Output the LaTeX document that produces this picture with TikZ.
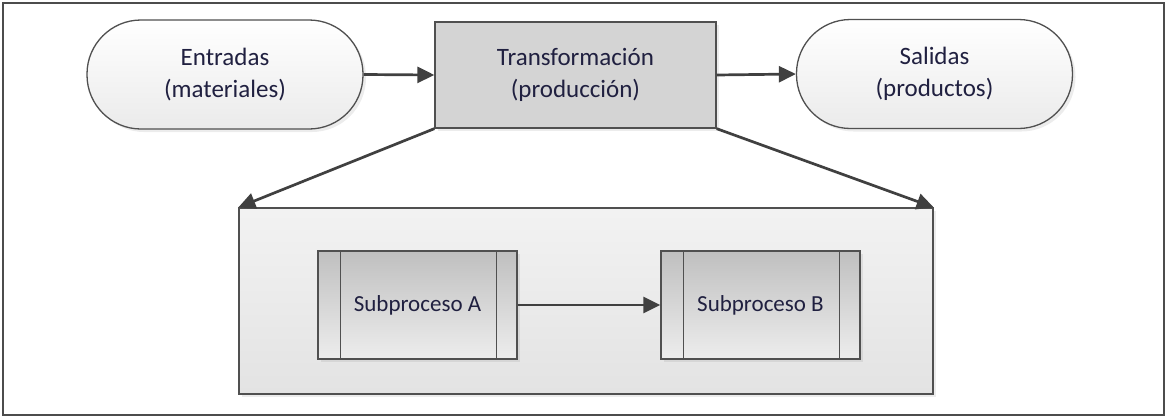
\documentclass[tikz,border=0pt]{standalone}
\usepackage{fontspec}
\setmainfont{Carlito}
\usetikzlibrary{arrows.meta,shadows}
\definecolor{txt}{RGB}{32,32,64}
\definecolor{edge}{RGB}{80,80,80}
\definecolor{arr}{RGB}{64,64,64}
\tikzset{
  base/.style={draw=edge, line width=1.3pt, text=txt, align=center, inner sep=0pt,
    drop shadow={opacity=0.15, shadow xshift=3pt, shadow yshift=-3pt}},
  terminal/.style={base, minimum width=276pt, minimum height=109pt, rounded corners=54pt,
    top color=white, bottom color=black!8, font=\fontsize{25}{32}\selectfont},
  trans/.style={base, minimum width=281pt, minimum height=106pt, fill=black!17,
    font=\fontsize{25}{32}\selectfont},
  group/.style={base, minimum width=694pt, minimum height=186pt, top color=black!5, bottom color=black!11},
  subp/.style={base, minimum width=199pt, minimum height=108pt, top color=black!25, bottom color=black!7,
    font=\fontsize{23}{28}\selectfont},
  conn/.style={draw=arr, line width=2.7pt, -{Triangle[length=17pt,width=16pt]}},
  bar/.style={draw=edge, line width=1.3pt}
}
\begin{document}
\begin{tikzpicture}[x=1pt,y=-1pt]
\useasboundingbox (0,0) rectangle (1168,418);
\draw[draw=black!70, line width=1.5pt] (3,3) rectangle (1164,415);
\node[terminal] (ent) at (225,74.5) {Entradas\\(materiales)};
\node[trans] (tra) at (575.5,75) {Transformación\\(producción)};
\node[terminal] (sal) at (934.5,74) {Salidas\\(productos)};
\node[group] (grp) at (586,301) {};
\node[subp] (sa) at (417.5,305) {Subproceso A};
\node[subp] (sb) at (760.5,305) {Subproceso B};
\draw[bar] ([xshift=23pt]sa.north west) -- ([xshift=23pt]sa.south west);
\draw[bar] ([xshift=-21pt]sa.north east) -- ([xshift=-21pt]sa.south east);
\draw[bar] ([xshift=23pt]sb.north west) -- ([xshift=23pt]sb.south west);
\draw[bar] ([xshift=-21pt]sb.north east) -- ([xshift=-21pt]sb.south east);
\draw[conn] (ent.east) -- (tra.west);
\draw[conn] (tra.east) -- (sal.west);
\draw[conn] (tra.south west) -- (grp.north west);
\draw[conn] (tra.south east) -- (grp.north east);
\draw[conn] (sa.east) -- (sb.west);
\end{tikzpicture}
\end{document}
